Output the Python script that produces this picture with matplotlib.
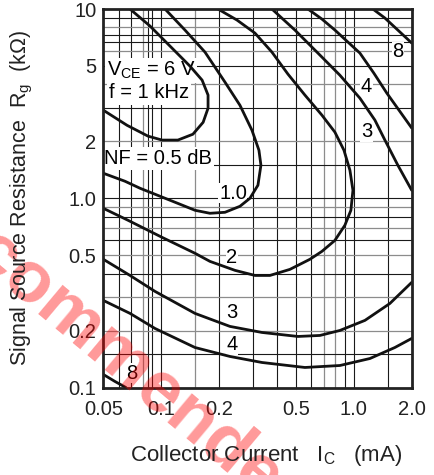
import matplotlib
matplotlib.use('Agg')
import matplotlib.pyplot as plt
from matplotlib.ticker import FixedLocator, FixedFormatter, NullLocator

plt.rcParams['font.family'] = ['Liberation Sans', 'DejaVu Sans']
plt.rcParams['mathtext.fontset'] = 'custom'
plt.rcParams['mathtext.rm'] = 'Liberation Sans'

# axis ticks
x_ticks = [0.05, 0.1, 0.2, 0.5, 1.0, 2.0]
x_ticklabels = ['0.05', '0.1', '0.2', '0.5', '1.0', '2.0']
y_ticks = [0.1, 0.2, 0.5, 1.0, 2, 5, 10]
y_ticklabels = ['0.1', '0.2', '0.5', '1.0', '2', '5', '10']

# chart paper grid
x_grid_dark = [0.06, 0.07, 0.085, 0.09, 0.1, 0.2, 0.3, 0.4, 0.5, 0.6, 0.9, 1.0, 1.5]
x_grid_gray = [0.08, 0.15, 0.7, 0.8]
y_grid_dark = [9, 7.3, 6.7, 5, 3, 1.5, 1.0, 0.8, 0.6, 0.4, 0.15]
y_grid_gray = [8, 6, 4, 2, 0.9, 0.7, 0.5, 0.3, 0.2]

# NF contours, Ic (mA) vs Rg (kOhm)
nf05_ic = [0.0688, 0.0874, 0.111, 0.141, 0.163, 0.175, 0.175, 0.165, 0.146, 0.122, 0.101, 0.0853, 0.0664, 0.05]
nf05_rg = [10, 8.13, 6.37, 4.99, 4.21, 3.51, 2.99, 2.52, 2.18, 2.03, 2.03, 2.13, 2.43, 2.92]

nf1_ic = [0.1046, 0.1328, 0.1687, 0.2142, 0.2563, 0.2958, 0.3216, 0.3294, 0.3178, 0.2888, 0.2563, 0.2142,
          0.179, 0.1497, 0.1251, 0.0985, 0.0775, 0.0648, 0.05]
nf1_rg = [10, 7.74, 5.92, 4.11, 3.10, 2.29, 1.795, 1.495, 1.172, 1.0, 0.907, 0.843,
          0.833, 0.864, 0.930, 1.025, 1.13, 1.23, 1.356]

nf2_ic = [0.197, 0.2473, 0.3067, 0.3757, 0.455, 0.5574, 0.683, 0.798, 0.889, 0.955, 0.990, 0.966, 0.899,
          0.798, 0.683, 0.592, 0.466, 0.3669, 0.3067, 0.2415, 0.179, 0.1497, 0.1008, 0.0672, 0.05]
nf2_rg = [10, 8.745, 7.46, 5.92, 4.53, 3.51, 2.75, 2.235, 1.795, 1.406, 1.102, 0.864, 0.720,
          0.599, 0.524, 0.476, 0.421, 0.391, 0.391, 0.416, 0.464, 0.512, 0.622, 0.765, 0.885]

nf3_up_ic = [0.3757, 0.4946, 0.667, 0.847, 1.076, 1.287, 1.451, 1.694, 2.0]
nf3_up_rg = [10, 7.74, 5.71, 4.47, 3.38, 2.59, 2.03, 1.495, 1.102]

nf4_up_ic = [0.578, 0.683, 0.798, 1.076, 1.272, 1.486, 2.0]
nf4_up_rg = [10, 8.85, 7.74, 5.85, 4.58, 3.59, 2.35]

nf8_up_ic = [1.257, 1.451, 1.694, 2.0]
nf8_up_rg = [10, 8.96, 7.74, 6.61]

nf3_lo_ic = [0.05, 0.0688, 0.0928, 0.1497, 0.2274, 0.3334, 0.5126, 0.667, 0.847, 1.143, 1.54, 2.0]
nf3_lo_rg = [0.476, 0.391, 0.322, 0.2464, 0.2103, 0.1954, 0.1861, 0.1884, 0.2002, 0.2263, 0.278, 0.3594]

nf4_lo_ic = [0.05, 0.0688, 0.0928, 0.1497, 0.2274, 0.3334, 0.5574, 0.847, 1.213, 1.635, 2.0]
nf4_lo_rg = [0.2885, 0.2464, 0.2051, 0.1627, 0.1459, 0.1356, 0.1276, 0.1307, 0.1423, 0.1627, 0.1817]

nf8_lo_ic = [0.05, 0.0575, 0.0655]
nf8_lo_rg = [0.1172, 0.1076, 0.1]

curves = [(nf05_ic, nf05_rg), (nf1_ic, nf1_rg), (nf2_ic, nf2_rg),
          (nf3_up_ic, nf3_up_rg), (nf4_up_ic, nf4_up_rg), (nf8_up_ic, nf8_up_rg),
          (nf3_lo_ic, nf3_lo_rg), (nf4_lo_ic, nf4_lo_rg), (nf8_lo_ic, nf8_lo_rg)]

# contour labels
lbl_text = ['8', '4', '3', '1.0', '2', '3', '4', '8']
lbl_ic = [1.694, 1.166, 1.166, 0.2357, 0.233, 0.233, 0.233, 0.0702]
lbl_rg = [5.94, 3.88, 2.24, 1.063, 0.487, 0.2492, 0.1688, 0.119]

fig = plt.figure(figsize=(4.35, 4.75), dpi=100)

# red watermark behind the chart, lower left
fig.text(108 / 435, 1 - 352 / 475, 'Recommended', fontsize=52, fontweight='bold',
         color='red', alpha=0.4, rotation=-40, ha='center', va='center', zorder=0)

ax = fig.add_axes([0.2375, 0.1842, 0.709, 0.7968])
ax.patch.set_alpha(0)
ax.set_xscale('log')
ax.set_yscale('log')
ax.set_xlim(0.05, 2.0)
ax.set_ylim(0.1, 10)

for v in x_grid_dark:
    ax.axvline(v, color='#1a1a1a', lw=0.8, zorder=1)
for v in x_grid_gray:
    ax.axvline(v, color='#8c8c8c', lw=0.9, zorder=1)
for v in y_grid_dark:
    ax.axhline(v, color='#1a1a1a', lw=0.8, zorder=1)
for v in y_grid_gray:
    ax.axhline(v, color='#8c8c8c', lw=0.9, zorder=1)

for xs, ys in curves:
    ax.plot(xs, ys, color='#111111', lw=2.0, solid_joinstyle='round',
            solid_capstyle='round', zorder=4)

for t, x, y in zip(lbl_text, lbl_ic, lbl_rg):
    ax.text(x, y, t, fontsize=14.5, ha='center', va='center', zorder=3,
            bbox=dict(fc='white', ec='none', pad=0.5))

box = dict(fc='white', ec='none', pad=1.5)
ax.text(0.052, 4.75, 'V$_\\mathregular{CE}$ = 6 V', fontsize=14.5, ha='left', va='center',
        zorder=3, bbox=box)
ax.text(0.0535, 3.6, 'f = 1 kHz', fontsize=14.5, ha='left', va='center', zorder=3, bbox=box)
ax.text(0.0505, 1.63, 'NF = 0.5 dB', fontsize=14.5, ha='left', va='center', zorder=3, bbox=box)

ax.xaxis.set_major_locator(FixedLocator(x_ticks))
ax.xaxis.set_major_formatter(FixedFormatter(x_ticklabels))
ax.xaxis.set_minor_locator(NullLocator())
ax.yaxis.set_major_locator(FixedLocator(y_ticks))
ax.yaxis.set_major_formatter(FixedFormatter(y_ticklabels))
ax.yaxis.set_minor_locator(NullLocator())
ax.tick_params(axis='x', length=0, pad=9, labelsize=14.5, colors='#222222')
ax.tick_params(axis='y', length=0, pad=5, labelsize=14.5, colors='#222222')

for s in ax.spines.values():
    s.set_linewidth(2.0)
    s.set_color('#222222')
    s.set_zorder(5)

fig.text(266 / 435, 1 - 455 / 475, 'Collector Current   I$_\\mathregular{C}$   (mA)',
         fontsize=16, ha='center', va='center', color='#222222')
fig.text(22 / 435, 1 - 198 / 475, 'Signal Source Resistance  R$_\\mathregular{g}$  (k\u03a9)',
         fontsize=15.5, ha='center', va='center', rotation=90, color='#222222')

fig.savefig('out.png', dpi=100)
